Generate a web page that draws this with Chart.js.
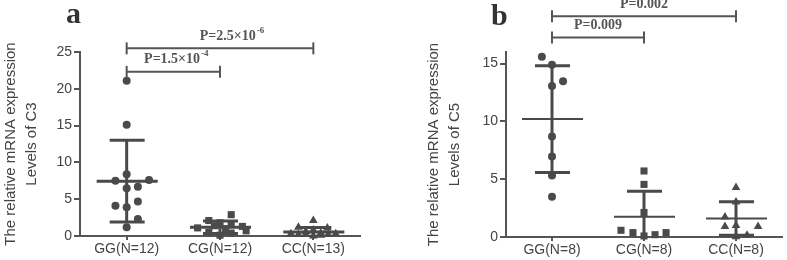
<!DOCTYPE html>
<html>
<head>
<meta charset="utf-8">
<script src="https://cdn.jsdelivr.net/npm/chart.js@4.4.1/dist/chart.umd.min.js"></script>
<style>
    body { margin: 0; background: #fff; width: 787px; height: 260px; position: relative; overflow: hidden; }
    .panel { position: absolute; top: 0; height: 260px; }
    #wrapA { left: 0; width: 400px; }
    #wrapB { left: 400px; width: 387px; }
</style>
</head>
<body>
<div class="panel" id="wrapA"><canvas id="chartA"></canvas></div>
<div class="panel" id="wrapB"><canvas id="chartB"></canvas></div>
<script>
// panel a : C3
const groupsA = ['GG(N=12)', 'CG(N=12)', 'CC(N=13)'];
const ggA = [21.1, 15.1, 8.4, 7.5, 7.6, 6.5, 6.7, 4.1, 4.7, 3.9, 2.3, 1.2];
const cgA = [2.9, 2.1, 1.8, 1.6, 1.4, 1.3, 1.1, 1.0, 0.7, 0.5, 0.4, 0.1];
const ccA = [2.1, 1.2, 1.1, 0.8, 0.6, 0.4, 0.3, 0.3, 0.2, 0.2, 0.2, 0.1, 0.0];
const meanA = [7.45, 1.2, 0.55];
const sdA = [5.55, 0.85, 0.6];
const ticksA = [0, 5, 10, 15, 20, 25];
const pValuesA = [['P=2.5×10', '-6'], ['P=1.5×10', '-4']];

// panel b : C5
const groupsB = ['GG(N=8)', 'CG(N=8)', 'CC(N=8)'];
const ggB = [15.6, 14.9, 13.05, 13.46, 8.7, 6.96, 5.31, 3.48];
const cgB = [5.71, 4.55, 2.12, 0.58, 0.38, 0.09, 0.2, 0.38];
const ccB = [4.29, 3.02, 1.74, 0.9, 1.0, 0.9, 0.15, 0.02];
const meanB = [10.2, 1.75, 1.6];
const sdB = [4.62, 2.2, 1.45];
const ticksB = [0, 5, 10, 15];
const pValuesB = [['P=0.002', ''], ['P=0.009', '']];

// sideways spread of the dots in each column (fraction of a column)
const spreadA = [
    [0, 0, 0, -0.12, 0.24, 0, 0.12, -0.12, 0.12, 0, 0.12, 0],
    [0.12, -0.12, 0, 0.12, -0.06, 0.24, -0.24, 0.06, 0.28, -0.12, 0.12, 0],
    [0, -0.16, 0.15, 0, -0.08, 0.08, -0.24, 0.24, -0.16, 0.16, -0.08, 0.08, 0]
];
const spreadB = [
    [-0.11, 0, 0, 0.12, 0, 0, 0, 0],
    [0, 0, 0, -0.25, -0.12, 0, 0.12, 0.24],
    [0, 0, -0.12, -0.12, 0, 0.24, 0.12, 0]
];

const ink = '#4a4a4a';
const axisColor = '#555';
const textColor = '#444';
const sans = '"Liberation Sans", Arial, sans-serif';
const serif = '"Liberation Serif", "Times New Roman", serif';
const shapes = ['circle', 'rect', 'triangle'];
const radii = [4, 5, 5];

function seg(ctx, x1, y1, x2, y2) {
    ctx.beginPath();
    ctx.moveTo(x1, y1);
    ctx.lineTo(x2, y2);
    ctx.stroke();
}

function makeStats(cfg) {
    return {
        id: 'stats',
        beforeDatasetsDraw(chart) {
            const { ctx, chartArea, scales: { x, y } } = chart;
            ctx.save();
            ctx.beginPath();
            ctx.rect(0, 0, chart.width, chartArea.bottom);
            ctx.clip();
            ctx.strokeStyle = ink;
            cfg.means.forEach((m, i) => {
                const cx = x.getPixelForValue(i + 1);
                const ym = y.getPixelForValue(m);
                const hi = y.getPixelForValue(m + cfg.sds[i]);
                const lo = y.getPixelForValue(m - cfg.sds[i]);
                ctx.lineWidth = cfg.meanWidth;
                seg(ctx, cx - 30, ym, cx + 31, ym);
                ctx.lineWidth = 3;
                seg(ctx, cx, hi, cx, lo);
                seg(ctx, cx - 17, hi, cx + 18, hi);
                seg(ctx, cx - 17, lo, cx + 18, lo);
            });
            ctx.restore();
        },
        afterDraw(chart) {
            const { ctx, scales: { x, y } } = chart;
            ctx.save();
            ctx.strokeStyle = axisColor;
            ctx.fillStyle = '#555';
            ctx.lineWidth = 2;
            cfg.brackets.forEach((b, k) => {
                const x1 = x.getPixelForValue(b.from);
                const x2 = x.getPixelForValue(b.to);
                const yy = y.getPixelForValue(b.y);
                seg(ctx, x1, yy, x2, yy);
                seg(ctx, x1, yy - 6, x1, yy + 6);
                seg(ctx, x2, yy - 6, x2, yy + 6);

                const [txt, sup] = cfg.pValues[k];
                ctx.font = 'bold 14px ' + serif;
                const w1 = ctx.measureText(txt).width;
                ctx.font = 'bold 9px ' + serif;
                const w2 = sup ? ctx.measureText(sup).width + 1 : 0;
                let lx = (x1 + x2) / 2 + (b.shift || 0) - (w1 + w2) / 2;
                const ly = yy - 12;
                ctx.textBaseline = 'middle';
                ctx.textAlign = 'left';
                ctx.font = 'bold 14px ' + serif;
                ctx.fillText(txt, lx, ly);
                if (sup) {
                    ctx.font = 'bold 9px ' + serif;
                    ctx.fillText(sup, lx + w1 + 1, ly - 6);
                }
            });
            ctx.fillStyle = '#333';
            ctx.font = 'bold 30px ' + serif;
            ctx.textBaseline = 'alphabetic';
            ctx.fillText(cfg.letter, cfg.letterX, cfg.letterY);
            ctx.restore();
        }
    };
}

function makeChart(canvasId, cfg) {
    const datasets = cfg.series.map((values, i) => ({
        data: values.map((v, k) => ({ x: i + 1 + cfg.spread[i][k], y: v })),
        pointStyle: shapes[i],
        pointRadius: radii[i],
        pointBackgroundColor: ink,
        pointBorderWidth: 0,
        showLine: false,
        clip: false
    }));

    new Chart(document.getElementById(canvasId), {
        type: 'scatter',
        data: { datasets: datasets },
        options: {
            responsive: true,
            maintainAspectRatio: false,
            animation: false,
            layout: { padding: cfg.padding },
            scales: {
                x: {
                    type: 'linear',
                    min: 0.5,
                    max: 3.5,
                    afterBuildTicks: scale => { scale.ticks = cfg.groups.map((g, i) => ({ value: i + 1 })); },
                    afterFit: scale => { scale.height = cfg.xHeight; },
                    border: { color: axisColor, width: 2 },
                    grid: { drawOnChartArea: false, color: axisColor, lineWidth: 2, tickLength: 4 },
                    ticks: {
                        autoSkip: false,
                        maxRotation: 0,
                        padding: 1,
                        color: textColor,
                        font: { family: sans, size: 14 },
                        callback: value => cfg.groups[value - 1]
                    }
                },
                y: {
                    min: 0,
                    max: cfg.yMax,
                    afterBuildTicks: scale => { scale.ticks = cfg.yTicks.map(v => ({ value: v })); },
                    afterFit: scale => { scale.width = cfg.yWidth; },
                    border: { color: axisColor, width: 2 },
                    grid: { drawOnChartArea: false, color: axisColor, lineWidth: 2, tickLength: 6 },
                    ticks: {
                        padding: 2,
                        color: textColor,
                        font: { family: sans, size: 14 }
                    },
                    title: {
                        display: true,
                        text: cfg.title,
                        color: textColor,
                        padding: 0,
                        font: { family: sans, size: 15, lineHeight: 1.4 }
                    }
                }
            },
            plugins: {
                legend: { display: false },
                tooltip: { enabled: false }
            }
        },
        plugins: [makeStats(cfg)]
    });
}

makeChart('chartA', {
    groups: groupsA,
    series: [ggA, cgA, ccA],
    spread: spreadA,
    means: meanA,
    sds: sdA,
    yMax: 25,
    yTicks: ticksA,
    title: ['The relative mRNA expression', 'Levels of C3'],
    pValues: pValuesA,
    brackets: [
        { from: 1, to: 3, y: 25.5, shift: 12 },
        { from: 1, to: 2, y: 22.3, shift: 3 }
    ],
    meanWidth: 3,
    letter: 'a',
    letterX: 66,
    letterY: 23,
    padding: { left: 0, right: 40, top: 52, bottom: 0 },
    yWidth: 80,
    xHeight: 24
});

makeChart('chartB', {
    groups: groupsB,
    series: [ggB, cgB, ccB],
    spread: spreadB,
    means: meanB,
    sds: sdB,
    yMax: 16,
    yTicks: ticksB,
    title: ['The relative mRNA expression', 'Levels of C5'],
    pValues: pValuesB,
    brackets: [
        { from: 1, to: 3, y: 19.1 },
        { from: 1, to: 2, y: 17.26 }
    ],
    meanWidth: 2,
    letter: 'b',
    letterX: 91,
    letterY: 25,
    padding: { left: 23, right: 4, top: 52, bottom: 0 },
    yWidth: 83,
    xHeight: 23
});
</script>
</body>
</html>
